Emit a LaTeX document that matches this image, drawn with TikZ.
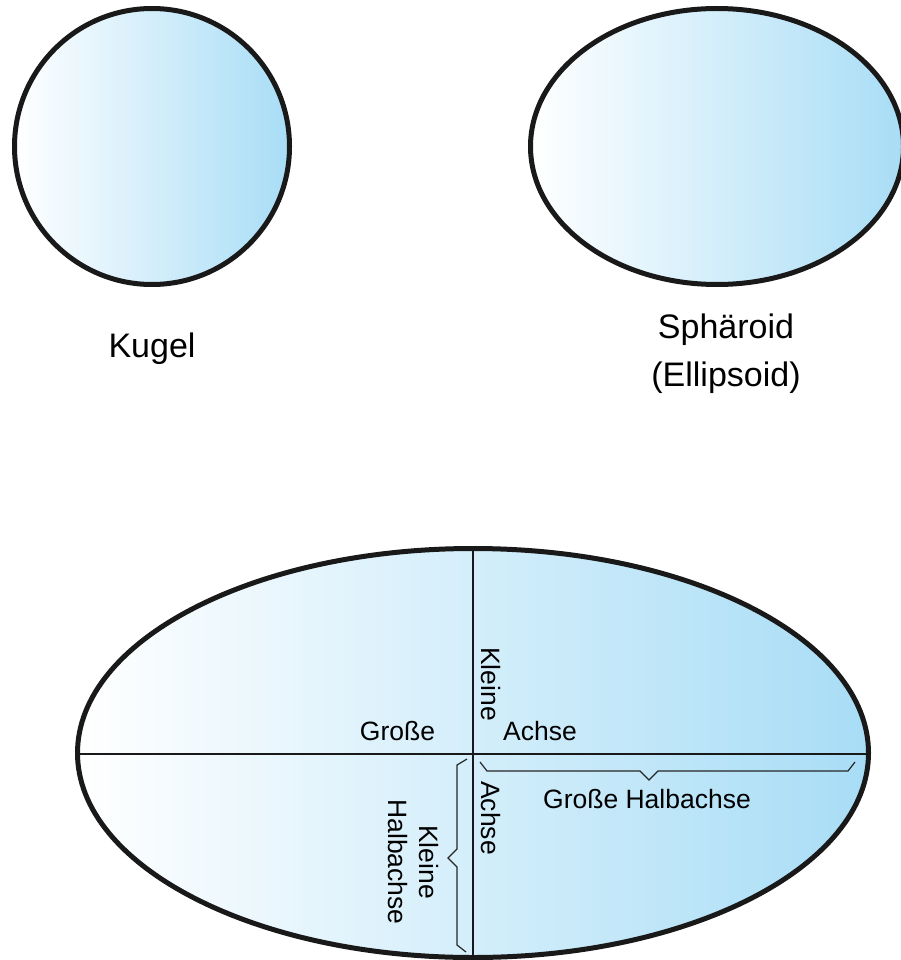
\documentclass[tikz,border=0pt]{standalone}
\usepackage{fontspec}
\setmainfont{Liberation Sans}
\begin{document}
\begin{tikzpicture}[x=1pt,y=-1pt,
  body/.style={draw=black!90, line width=5pt, left color=white, right color={rgb,255:red,168;green,221;blue,246}},
  axis/.style={draw=black!90, line width=2.2pt},
  brace/.style={draw=black!85, line width=1.2pt, line join=miter},
  bigtxt/.style={inner sep=0pt, font=\fontsize{34}{48}\selectfont, align=center},
  smalltxt/.style={inner sep=0pt, font=\fontsize{26.5}{31}\selectfont, align=center}]
\useasboundingbox (0,0) rectangle (901,960);
% shapes
\path[body] (152,146.5) ellipse [x radius=137.5, y radius=138];
\path[body] (717,146.5) ellipse [x radius=186.5, y radius=138];
\path[body] (473,753) ellipse [x radius=395.5, y radius=204.5];
% axes
\coordinate (hl) at (78,754);
\coordinate (hr) at (868,754);
\coordinate (vt) at (473,549);
\coordinate (vb) at (473,957);
\draw[axis] (hl) -- (hr);
\draw[axis] (vt) -- (vb);
% braces
\draw[brace] (480,762) -- (487,771) -- (640,771) -- (649,780) -- (658,771) -- (848,771) -- (855,762);
\draw[brace] (467,759) -- (457,765) -- (457,849) -- (448,858) -- (457,867) -- (457,945) -- (466,952);
% labels
\node[bigtxt] (kugel) at (152,349) {Kugel};
\node[bigtxt] (sph) at (726,354) {Sphäroid\\(Ellipsoid)};
\node[smalltxt, anchor=base] (gr) at (397.5,740) {Große};
\node[smalltxt, anchor=base] (ac) at (540,740) {Achse};
\node[smalltxt, rotate=-90] (kl) at (491,684) {Kleine};
\node[smalltxt, rotate=-90] (ac2) at (491,818) {Achse};
\node[smalltxt, rotate=-90] (kh) at (413,862) {Kleine\\Halbachse};
\node[smalltxt] (gh) at (647,799) {Große Halbachse};
\end{tikzpicture}
\end{document}
